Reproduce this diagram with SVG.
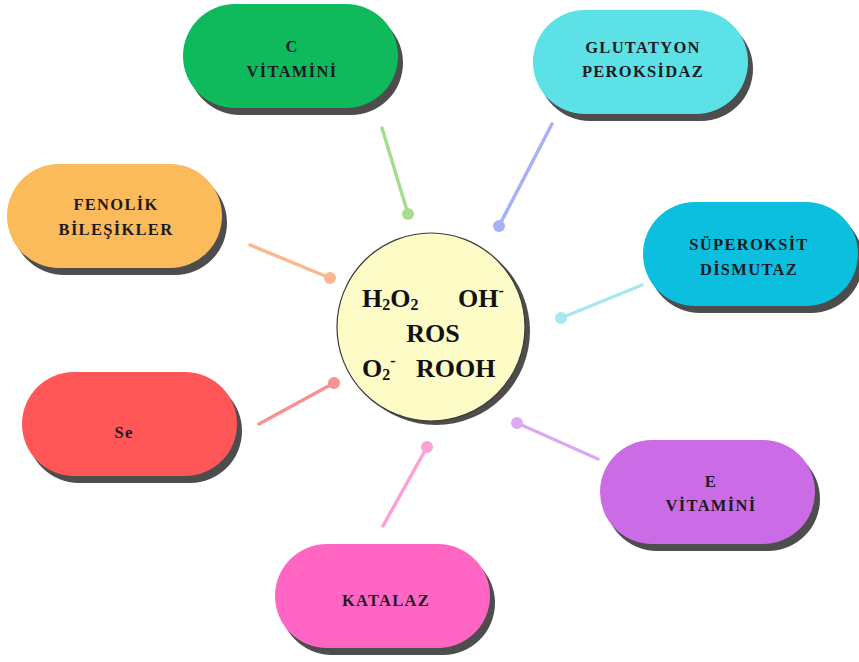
<svg xmlns="http://www.w3.org/2000/svg" width="859" height="662" viewBox="0 0 859 662">
<style>
.sh{fill:#4d4d4d}
.lbl{font-family:"Liberation Serif","DejaVu Serif",serif;font-weight:bold;font-size:16.5px;letter-spacing:1.3px;fill:#1c1a24;text-anchor:middle}
.ros{font-family:"Liberation Serif","Times New Roman",serif;font-weight:bold;font-size:26px;fill:#111}
.sub{font-size:16px}
.con line{stroke-width:3.5;stroke-linecap:round}
</style>
<rect width="859" height="662" fill="#ffffff"/>
<g id="connectors" class="con">
  <line x1="382" y1="128" x2="408" y2="214" stroke="#a8dd90"/><circle cx="408" cy="214" r="6" fill="#a8dd90"/>
  <line x1="552" y1="124" x2="499" y2="226" stroke="#a6b2f5"/><circle cx="499" cy="226" r="6" fill="#a6b2f5"/>
  <line x1="250" y1="245" x2="330" y2="278" stroke="#fbb78e"/><circle cx="330" cy="278" r="6" fill="#fbb78e"/>
  <line x1="642" y1="285" x2="561" y2="318" stroke="#a8e7ef"/><circle cx="561" cy="318" r="6" fill="#a8e7ef"/>
  <line x1="259" y1="424" x2="334" y2="383" stroke="#f99191"/><circle cx="334" cy="383" r="6" fill="#f99191"/>
  <line x1="598" y1="459" x2="517" y2="423" stroke="#dcaaf0"/><circle cx="517" cy="423" r="6" fill="#dcaaf0"/>
  <line x1="383" y1="526" x2="427" y2="447" stroke="#fba2d7"/><circle cx="427" cy="447" r="6" fill="#fba2d7"/>
</g>
<g id="ros">
  <circle cx="436" cy="331" r="94" class="sh"/>
  <circle cx="431" cy="327" r="94" fill="#fdfbc6" stroke="#3a3a3a" stroke-width="1.2"/>
  <text class="ros" x="362" y="307">H<tspan class="sub" dy="3">2</tspan><tspan dy="-3">O</tspan><tspan class="sub" dy="3">2</tspan></text>
  <text class="ros" x="458" y="307">OH<tspan class="sub" dy="-11">-</tspan></text>
  <text class="ros" x="433" y="342" text-anchor="middle">ROS</text>
  <text class="ros" x="362" y="377">O<tspan class="sub" dy="3">2</tspan><tspan class="sub" dy="-14">-</tspan></text>
  <text class="ros" x="416" y="377">ROOH</text>
</g>
<g id="c-vitamini">
  <rect x="188" y="11" width="215" height="104" rx="52" class="sh"/>
  <rect x="183" y="4" width="215" height="104" rx="52" fill="#0fba5c"/>
  <text class="lbl" x="292" y="52">C</text>
  <text class="lbl" x="292" y="77">VİTAMİNİ</text>
</g>
<g id="glutatyon">
  <rect x="538" y="17" width="215" height="104" rx="52" class="sh"/>
  <rect x="533" y="10" width="215" height="104" rx="52" fill="#5ce1e6"/>
  <text class="lbl" x="643" y="53">GLUTATYON</text>
  <text class="lbl" x="643" y="77">PEROKSİDAZ</text>
</g>
<g id="fenolik">
  <rect x="12" y="171" width="215" height="104" rx="52" class="sh"/>
  <rect x="7" y="164" width="215" height="104" rx="52" fill="#fbbb5b"/>
  <text class="lbl" x="116" y="210">FENOLİK</text>
  <text class="lbl" x="116" y="235">BİLEŞİKLER</text>
</g>
<g id="superoksit">
  <rect x="648" y="209" width="215" height="104" rx="52" class="sh"/>
  <rect x="643" y="202" width="215" height="104" rx="52" fill="#0cbfde"/>
  <text class="lbl" x="749" y="250">SÜPEROKSİT</text>
  <text class="lbl" x="749" y="275">DİSMUTAZ</text>
</g>
<g id="se">
  <rect x="27" y="379" width="215" height="104" rx="52" class="sh"/>
  <rect x="22" y="372" width="215" height="104" rx="52" fill="#ff5757"/>
  <text class="lbl" x="124" y="438">Se</text>
</g>
<g id="e-vitamini">
  <rect x="605" y="447" width="215" height="104" rx="52" class="sh"/>
  <rect x="600" y="440" width="215" height="104" rx="52" fill="#cb6ce6"/>
  <text class="lbl" x="711" y="487">E</text>
  <text class="lbl" x="711" y="511">VİTAMİNİ</text>
</g>
<g id="katalaz">
  <rect x="280" y="551" width="215" height="104" rx="52" class="sh"/>
  <rect x="275" y="544" width="215" height="104" rx="52" fill="#ff66c4"/>
  <text class="lbl" x="386" y="606">KATALAZ</text>
</g>
</svg>
